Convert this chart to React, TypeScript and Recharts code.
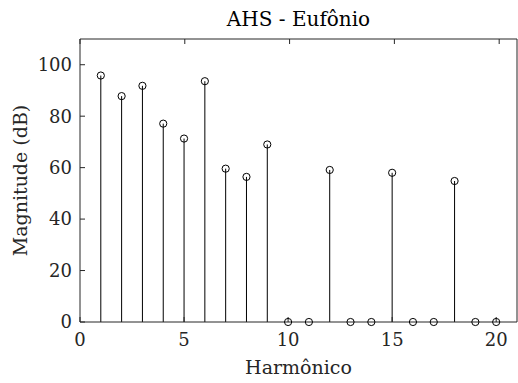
import React from 'react';
import { ComposedChart, Scatter, ErrorBar, XAxis, YAxis, Label } from 'recharts';

const harmonics = [1, 2, 3, 4, 5, 6, 7, 8, 9, 10, 11, 12, 13, 14, 15, 16, 17, 18, 19, 20];
const magnitudes = [95.8, 87.8, 91.8, 77.1, 71.3, 93.6, 59.6, 56.4, 69.0, 0, 0, 59.1, 0, 0, 58.0, 0, 0, 54.8, 0, 0];
const xTicks = [0, 5, 10, 15, 20];
const yTicks = [0, 20, 40, 60, 80, 100];

const FONT = '"DejaVu Serif", serif';
const INK = '#262626';

// stems run from the baseline up to each value via an asymmetric error bar
const data = harmonics.map((h, i) => ({
  h,
  mag: magnitudes[i],
  stem: [magnitudes[i], 0],
}));

const tickStyle = { fontSize: 18, fill: INK, fontFamily: FONT };
const labelStyle = { fontSize: 19, fill: INK, fontFamily: FONT };
const blank = () => '';

const StemHead = (props: any) => (
  <circle cx={props.cx} cy={props.cy} r={3.6} fill="none" stroke="#000" strokeWidth={1} />
);

const App: React.FC = () => {
  return (
    <div style={{ position: 'absolute', left: 0, top: 0, background: '#fff' }}>
      <ComposedChart
        width={518}
        height={383}
        data={data}
        margin={{ top: 9, right: 0, bottom: 0, left: 0 }}
      >
        <XAxis
          xAxisId="b"
          dataKey="h"
          type="number"
          domain={[0, 20.85]}
          ticks={xTicks}
          height={61}
          tickSize={-5}
          tickMargin={16}
          stroke={INK}
          tick={tickStyle}
          allowDecimals={false}
        >
          <Label value="Harmônico" position="insideBottom" offset={9} style={labelStyle} />
        </XAxis>
        <XAxis
          xAxisId="t"
          orientation="top"
          dataKey="h"
          type="number"
          domain={[0, 20.85]}
          ticks={xTicks}
          height={30}
          tickSize={-5}
          stroke={INK}
          tickFormatter={blank}
        >
          <Label
            content={(p: any) => (
              <text
                x={p.viewBox.x + p.viewBox.width / 2}
                y={26}
                textAnchor="middle"
                style={{ fontSize: 20, fill: '#000', fontFamily: FONT }}
              >
                AHS - Eufônio
              </text>
            )}
          />
        </XAxis>
        <YAxis
          yAxisId="l"
          type="number"
          domain={[0, 110]}
          ticks={yTicks}
          width={80}
          tickSize={-5}
          tickMargin={13}
          stroke={INK}
          tick={tickStyle}
        >
          <Label
            content={(p: any) => {
              const cy = p.viewBox.y + p.viewBox.height / 2;
              return (
                <text
                  x={27}
                  y={cy}
                  transform={`rotate(-90 27 ${cy})`}
                  textAnchor="middle"
                  style={labelStyle}
                >
                  Magnitude (dB)
                </text>
              );
            }}
          />
        </YAxis>
        <YAxis
          yAxisId="r"
          orientation="right"
          type="number"
          domain={[0, 110]}
          ticks={yTicks}
          width={1}
          tickSize={-5}
          stroke={INK}
          tickFormatter={blank}
        />
        <Scatter
          xAxisId="b"
          yAxisId="l"
          dataKey="mag"
          shape={StemHead}
          isAnimationActive={false}
        >
          <ErrorBar dataKey="stem" direction="y" width={0} stroke="#000" strokeWidth={1} />
        </Scatter>
      </ComposedChart>
    </div>
  );
};

export default App;
